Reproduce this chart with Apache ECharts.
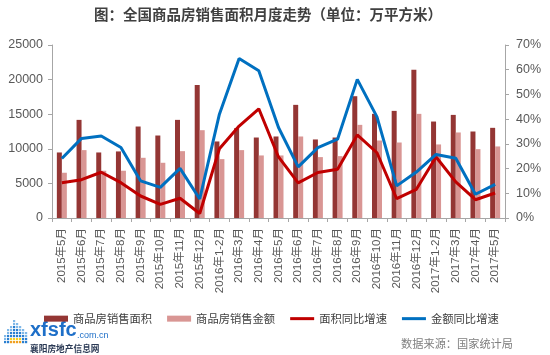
<!DOCTYPE html>
<html>
<head>
<meta charset="utf-8">
<script src="https://cdn.jsdelivr.net/npm/echarts@6/dist/echarts.min.js"></script>
<style>
html,body{margin:0;padding:0;background:#fff;}
#chart{width:550px;height:355px;}
</style>
</head>
<body>
<div id="chart"></div>
<script>
var categories = ['2015年5月','2015年6月','2015年7月','2015年8月','2015年9月','2015年10月','2015年11月','2015年12月',
  '2016年1-2月','2016年3月','2016年4月','2016年5月','2016年6月','2016年7月','2016年8月','2016年9月','2016年10月','2016年11月','2016年12月',
  '2017年1-2月','2017年3月','2017年4月','2017年5月'];
var salesArea = [9470,14180,9470,9620,13220,11920,14180,19230,11060,12980,11630,11780,16350,11350,11630,17600,15050,15480,21440,13940,14900,12500,13030];
var salesAmount = [6540,9810,6830,6830,8700,7980,9660,12690,8510,9810,9040,9040,11780,8800,8940,13460,11200,10910,15050,10630,12360,9950,10340];
var areaYoY = [14.3,15.5,18.5,14.3,8.9,5.5,8.0,1.8,28.0,37.2,44.2,24.7,14.2,18.4,19.7,33.6,26.4,7.8,11.6,24.7,14.6,7.4,10.1];
var amountYoY = [24.1,32.2,33.2,28.5,15.0,12.4,20.1,7.7,42.0,64.5,59.6,36.6,20.7,28.5,31.9,56.1,40.9,13.0,18.6,25.7,24.2,9.6,13.6];
var leftTicks = {min:0, max:25000, interval:5000};
var rightTicks = {min:0, max:70, interval:10};

var chart = echarts.init(document.getElementById('chart'), null, {renderer:'canvas'});

// decorative logo mosaic
var logo = [];
var colH = [3,5,6,8,7,6,5,4];
for (var c = 0; c < colH.length; c++) {
  for (var r = 0; r < colH[c]; r++) {
    var isYellow = (r < 2 && c >= 2 && c <= 5);
    logo.push({
      type:'rect',
      shape:{x:4 + c*3, y:341 - r*3, width:2.2, height:2.2},
      style:{fill: isYellow ? (r===0 ? '#f0a020' : '#f5d020') : (r > colH[c]-3 ? '#7fb8e8' : '#2a7fd0')},
      silent:true
    });
  }
}

var axisGrey = '#A6A6A6';
var labelGrey = '#595959';
var fontFam = '"Liberation Sans", "Noto Sans CJK SC", sans-serif';
var lineIcon = 'path://M0,0H80V10H0Z';

chart.setOption({
  animation:false,
  backgroundColor:'#fff',
  title:{
    text:'图：全国商品房销售面积月度走势（单位：万平方米）',
    left:89, top:2,
    textStyle:{fontSize:14.5, fontWeight:'bold', color:'#404040', fontFamily:'"Noto Sans CJK SC", sans-serif'}
  },
  grid:{left:52, right:45, top:45, bottom:137, containLabel:false},
  legend:{
    left:39, top:308,
    itemWidth:24, itemHeight:6, itemGap:15,
    symbolKeepAspect:true,
    textStyle:{fontSize:11.3, color:'#404040', fontFamily:'"Noto Sans CJK SC", sans-serif'},
    data:[
      {name:'商品房销售面积', icon:'rect'},
      {name:'商品房销售金额', icon:'rect'},
      {name:'面积同比增速', icon:lineIcon},
      {name:'金额同比增速', icon:lineIcon}
    ]
  },
  xAxis:{
    type:'category',
    data:categories,
    boundaryGap:true,
    axisLine:{lineStyle:{color:axisGrey, width:1}},
    axisTick:{show:true, length:4, lineStyle:{color:axisGrey}},
    axisLabel:{rotate:90, interval:0, fontSize:11.5, color:labelGrey, margin:10, fontFamily:fontFam}
  },
  yAxis:[
    {
      type:'value', min:leftTicks.min, max:leftTicks.max, interval:leftTicks.interval,
      axisLine:{show:true, lineStyle:{color:axisGrey}},
      axisTick:{show:true, length:4, lineStyle:{color:axisGrey}},
      splitLine:{show:false},
      axisLabel:{fontSize:12.5, color:labelGrey, margin:9, fontFamily:fontFam, formatter:function(v){return String(v);}}
    },
    {
      type:'value', min:rightTicks.min, max:rightTicks.max, interval:rightTicks.interval,
      position:'right',
      axisLine:{show:true, lineStyle:{color:axisGrey}},
      axisTick:{show:true, length:4, lineStyle:{color:axisGrey}},
      splitLine:{show:false},
      axisLabel:{fontSize:12.5, color:labelGrey, margin:11, formatter:'{value}%', fontFamily:fontFam}
    }
  ],
  series:[
    {name:'商品房销售面积', type:'bar', data:salesArea, barWidth:5, barGap:'0%', itemStyle:{color:'#943634'}, yAxisIndex:0},
    {name:'商品房销售金额', type:'bar', data:salesAmount, barWidth:5, barGap:'0%', itemStyle:{color:'#D99694'}, yAxisIndex:0},
    {name:'面积同比增速', type:'line', data:areaYoY, yAxisIndex:1, symbol:'none', lineStyle:{color:'#C00000', width:3}, itemStyle:{color:'#C00000'}},
    {name:'金额同比增速', type:'line', data:amountYoY, yAxisIndex:1, symbol:'none', lineStyle:{color:'#0070C0', width:3}, itemStyle:{color:'#0070C0'}}
  ],
  graphic: logo.concat([
    {type:'text', left:30, top:320, silent:true,
      style:{text:'xfsfc', fill:'#1E6FC8', font:'bold 20px "Liberation Sans", sans-serif'}},
    {type:'text', left:77, top:331, silent:true,
      style:{text:'.com.cn', fill:'#1E6FC8', font:'9px "Liberation Sans", sans-serif'}},
    {type:'text', left:30, top:344, silent:true,
      style:{text:'襄阳房地产信息网', fill:'#2b3a55', font:'bold 8.7px "Noto Sans CJK SC", sans-serif'}},
    {type:'text', right:37, top:338, silent:true,
      style:{text:'数据来源：国家统计局', fill:'#7F7F7F', font:'11.2px "Noto Sans CJK SC", sans-serif'}}
  ])
});
</script>
</body>
</html>
